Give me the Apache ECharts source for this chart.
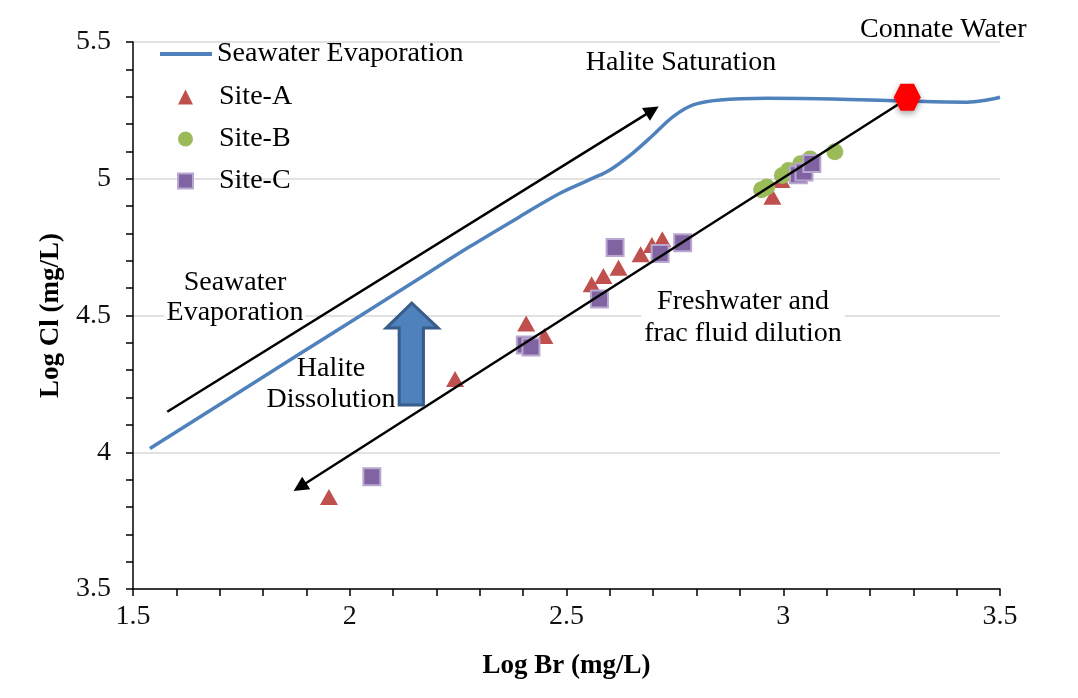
<!DOCTYPE html>
<html>
<head>
<meta charset="utf-8">
<script src="https://cdn.jsdelivr.net/npm/echarts@6/dist/echarts.min.js"></script>
<style>html,body{margin:0;padding:0;background:#fff}#c{width:1078px;height:698px}</style>
</head>
<body>
<div id="c"></div>
<script>
// Seawater evaporation curve (Log Br, Log Cl)
const seawaterBr = [1.539, 1.862, 2.185, 2.277, 2.393, 2.485, 2.561, 2.600, 2.653, 2.700, 2.746, 2.792, 2.854, 2.963, 3.115, 3.269, 3.424, 3.470, 3.500];
const seawaterCl = [4.014, 4.337, 4.660, 4.752, 4.862, 4.947, 5.002, 5.032, 5.094, 5.160, 5.227, 5.270, 5.288, 5.294, 5.292, 5.285, 5.280, 5.288, 5.298];

const siteABr = [1.952, 2.243, 2.407, 2.449, 2.558, 2.585, 2.620, 2.671, 2.697, 2.721, 2.975, 2.996];
const siteACl = [3.836, 4.268, 4.471, 4.425, 4.614, 4.644, 4.675, 4.724, 4.758, 4.779, 4.934, 4.995];

const siteBBr = [2.950, 2.962, 2.998, 3.012, 3.040, 3.062, 3.119];
const siteBCl = [4.960, 4.970, 5.012, 5.030, 5.055, 5.072, 5.099];

const siteCBr = [2.051, 2.405, 2.418, 2.576, 2.612, 2.716, 2.768, 3.035, 3.048, 3.066];
const siteCCl = [3.910, 4.392, 4.385, 4.560, 4.749, 4.727, 4.766, 5.015, 5.025, 5.056];

const connateBr = [3.286];
const connateCl = [5.298];

// Annotation arrows (data coordinates)
const evapArrow = [[1.579, 4.148], [2.698, 5.250]];
const dilutionArrow = [[3.281, 5.288], [1.885, 3.873]];
const blockArrowBr = [2.143, 2.204, 2.170, 2.170, 2.114, 2.114, 2.084];
const blockArrowCl = [4.545, 4.454, 4.454, 4.173, 4.173, 4.454, 4.454];

const xTicks = {min: 1.5, max: 3.5, interval: 0.5};
const yTicks = {min: 3.5, max: 5.5, interval: 0.5};

const zip = (a, b) => a.map((v, i) => [v, b[i]]);
const FONT = 'Liberation Serif';
const legendText = {fontFamily: FONT, fontSize: 28, color: '#000', lineHeight: 30};

const chart = echarts.init(document.getElementById('c'));
chart.setOption({
  animation: false,
  backgroundColor: '#fff',
  textStyle: {fontFamily: FONT},
  grid: {left: 133, right: 78, top: 42, bottom: 109},
  legend: [
    {
      orient: 'vertical', left: 155, top: 34,
      itemWidth: 52, itemHeight: 4,
      textStyle: legendText,
      data: [{name: 'Seawater Evaporation', icon: 'rect'}]
    },
    {
      orient: 'vertical', left: 172, top: 77,
      itemWidth: 15, itemHeight: 15, itemGap: 12,
      textStyle: Object.assign({}, legendText, {padding: [0, 0, 0, 21]}),
      data: [
        {name: 'Site-A', icon: 'triangle'},
        {name: 'Site-B', icon: 'circle'},
        {name: 'Site-C', icon: 'rect'}
      ]
    }
  ],
  xAxis: {
    type: 'value', min: xTicks.min, max: xTicks.max, interval: xTicks.interval,
    name: 'Log Br (mg/L)', nameLocation: 'middle', nameGap: 64,
    nameTextStyle: {fontFamily: FONT, fontSize: 27, fontWeight: 'bold', color: '#000'},
    axisLine: {lineStyle: {color: '#000', width: 1.5}},
    axisTick: {show: true, length: 7, lineStyle: {color: '#000', width: 1.5}},
    minorTick: {show: true, splitNumber: 5, length: 7, lineStyle: {color: '#000', width: 1.5}},
    splitLine: {show: false},
    axisLabel: {fontFamily: FONT, fontSize: 28, color: '#111', margin: 14}
  },
  yAxis: {
    type: 'value', min: yTicks.min, max: yTicks.max, interval: yTicks.interval,
    name: 'Log Cl (mg/L)', nameLocation: 'middle', nameGap: 68,
    nameTextStyle: {fontFamily: FONT, fontSize: 27, fontWeight: 'bold', color: '#000'},
    axisLine: {show: true, lineStyle: {color: '#000', width: 1.5}},
    axisTick: {show: true, length: 7, lineStyle: {color: '#000', width: 1.5}},
    minorTick: {show: true, splitNumber: 5, length: 7, lineStyle: {color: '#000', width: 1.5}},
    splitLine: {show: true, lineStyle: {color: '#d9d9d9', width: 1.5}},
    axisLabel: {fontFamily: FONT, fontSize: 28, color: '#111', margin: 22}
  },
  series: [
    {
      name: 'Seawater Evaporation', type: 'line', smooth: 0.35,
      data: zip(seawaterBr, seawaterCl), symbol: 'none',
      lineStyle: {color: '#4F81BD', width: 3.5}, itemStyle: {color: '#4F81BD'}, z: 3,
      markLine: {
        silent: true, symbol: ['none', 'triangle'], symbolSize: 15,
        label: {show: false},
        lineStyle: {color: '#000', width: 2.5, type: 'solid'},
        data: [
          [{coord: evapArrow[0]}, {coord: evapArrow[1]}],
          [{coord: dilutionArrow[0]}, {coord: dilutionArrow[1]}]
        ]
      }
    },
    {
      name: 'Site-A', type: 'scatter', symbol: 'triangle', symbolSize: [18, 16],
      data: zip(siteABr, siteACl), itemStyle: {color: '#C0504D', opacity: 1}, z: 4
    },
    {
      name: 'Site-B', type: 'scatter', symbol: 'circle', symbolSize: 17,
      data: zip(siteBBr, siteBCl), itemStyle: {color: '#9BBB59', opacity: 1}, z: 4
    },
    {
      name: 'Site-C', type: 'scatter', symbol: 'rect', symbolSize: 17,
      data: zip(siteCBr, siteCCl),
      itemStyle: {color: '#8064A2', borderColor: '#B9A7D1', borderWidth: 2, opacity: 1}, z: 4
    },
    {
      name: 'Connate Water', type: 'scatter',
      symbol: 'path://M0,50 L25,6 L75,6 L100,50 L75,94 L25,94 Z', symbolSize: 27,
      data: zip(connateBr, connateCl),
      itemStyle: {color: '#FF0000', opacity: 1, shadowBlur: 6, shadowColor: 'rgba(0,0,0,0.35)', shadowOffsetY: 3}, z: 6
    },
    {
      name: 'Halite Dissolution', type: 'custom', z: 5, silent: true,
      data: [0],
      renderItem: function (params, api) {
        const pts = blockArrowBr.map((b, i) => api.coord([b, blockArrowCl[i]]));
        return {
          type: 'polygon', shape: {points: pts},
          style: {fill: '#4F81BD', stroke: '#385D8A', lineWidth: 3}
        };
      }
    }
  ],
  graphic: [
    {type: 'text', left: 860, top: 16, style: {text: 'Connate Water', font: '28px "Liberation Serif"', fill: '#000'}},
    {type: 'text', x: 681, y: 63, style: {text: 'Halite Saturation', font: '28px "Liberation Serif"', fill: '#000', align: 'center', verticalAlign: 'middle'}},
    {type: 'text', x: 235, y: 298, z: 1, style: {text: 'Seawater\nEvaporation', font: '28px "Liberation Serif"', fill: '#000', align: 'center', verticalAlign: 'middle', lineHeight: 30, backgroundColor: '#fff', padding: [0, 2]}},
    {type: 'text', x: 331, y: 384, style: {text: 'Halite\nDissolution', font: '28px "Liberation Serif"', fill: '#000', align: 'center', verticalAlign: 'middle', lineHeight: 31}},
    {type: 'text', x: 743, y: 318, z: 1, style: {text: 'Freshwater and\nfrac fluid dilution', font: '28px "Liberation Serif"', fill: '#000', align: 'center', verticalAlign: 'middle', lineHeight: 32, backgroundColor: '#fff', padding: [0, 3]}}
  ]
});
</script>
</body>
</html>
